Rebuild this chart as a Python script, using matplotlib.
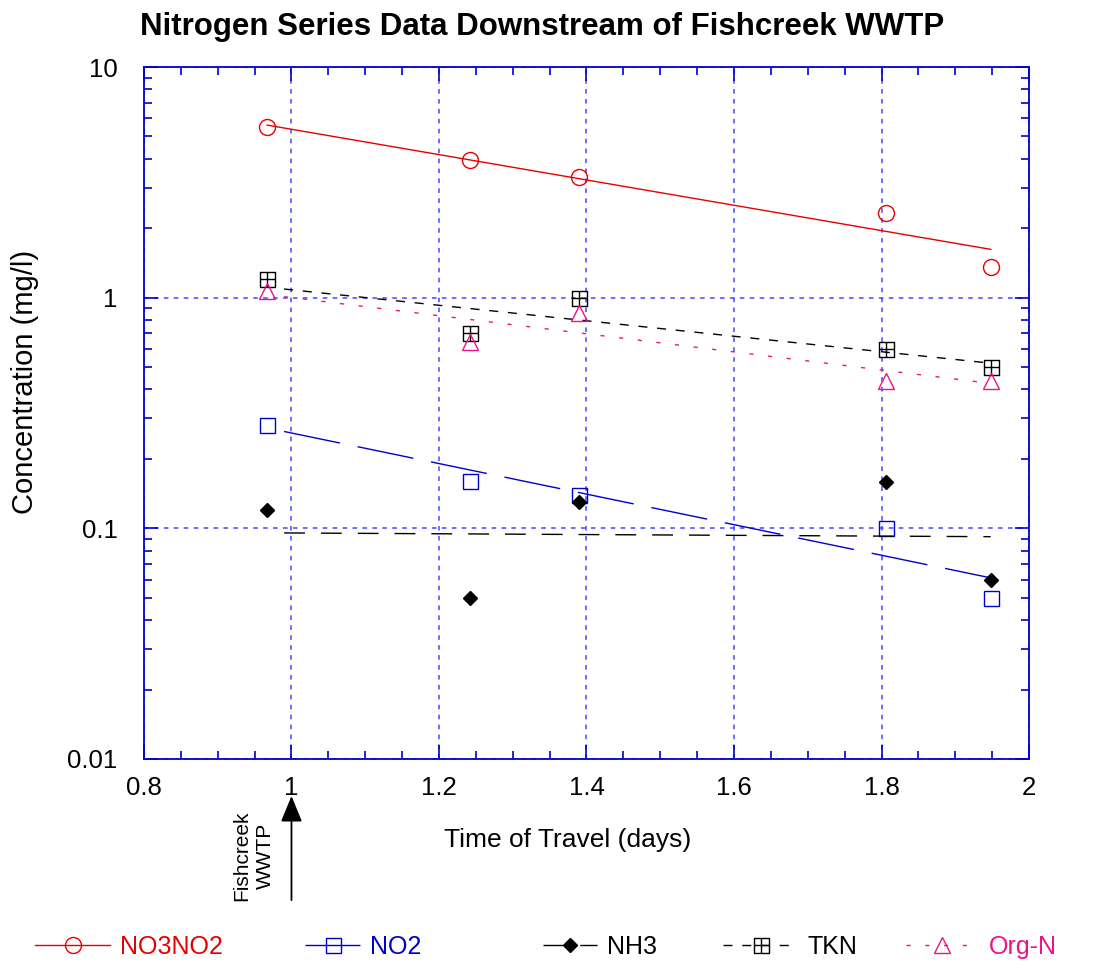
import numpy as np
import matplotlib
matplotlib.use("Agg")
import matplotlib.pyplot as plt
from matplotlib.path import Path
from matplotlib.ticker import MultipleLocator, LogLocator, FuncFormatter, NullFormatter
import matplotlib.transforms as mtransforms

plt.rcParams["font.family"] = ["Liberation Sans", "DejaVu Sans"]

# observed data (time of travel in days, concentration in mg/l)
travel_days = [0.967, 1.242, 1.390, 1.806, 1.948]
no3no2_obs = [5.5, 3.95, 3.34, 2.33, 1.36]
no2_obs = [0.28, 0.160, 0.140, 0.100, 0.050]
nh3_obs = [0.120, 0.050, 0.130, 0.159, 0.060]
tkn_obs = [1.20, 0.70, 1.00, 0.60, 0.50]
orgn_obs = [1.07, 0.64, 0.86, 0.435, 0.435]

# model (simulated) profiles
no3no2_sim_x = [0.967, 1.948]
no3no2_sim = [5.6, 1.62]
sim_x = [0.99, 1.948]
no2_sim = [0.263, 0.061]
nh3_sim = [0.0955, 0.092]
tkn_sim = [1.09, 0.52]
orgn_sim = [1.01, 0.425]

series_names = ["NO3NO2", "NO2", "NH3", "TKN", "Org-N"]

RED = "#e60000"
BLUE = "#0000cc"
PINK = "#ee1289"
AXBLUE = "#0000d0"

# square with a cross inside, for TKN
box_plus = Path(
    [(-1, -1), (1, -1), (1, 1), (-1, 1), (-1, -1), (0, -1), (0, 1), (-1, 0), (1, 0)],
    [Path.MOVETO, Path.LINETO, Path.LINETO, Path.LINETO, Path.CLOSEPOLY,
     Path.MOVETO, Path.LINETO, Path.MOVETO, Path.LINETO],
)

fig = plt.figure(figsize=(11.11, 9.67), dpi=100)
ax = fig.add_axes([0.1296, 0.2151, 0.7966, 0.7156])

ax.set_yscale("log")
ax.set_xlim(0.8, 2.0)
ax.set_ylim(0.01, 10)

styles = [
    dict(color=RED, marker="o", ms=11.5, dashes=None, ls="-"),
    dict(color=BLUE, marker="s", ms=10.8, dashes=(41, 13), ls="--"),
    dict(color="black", marker="D", ms=7.6, dashes=(15, 11.5), ls="--"),
    dict(color="black", marker=box_plus, ms=10.8, dashes=(6.5, 7), ls="--"),
    dict(color=PINK, marker="^", ms=11, dashes=(3, 10.5), ls="--"),
]
obs = [no3no2_obs, no2_obs, nh3_obs, tkn_obs, orgn_obs]
sims = [(no3no2_sim_x, no3no2_sim), (sim_x, no2_sim), (sim_x, nh3_sim),
        (sim_x, tkn_sim), (sim_x, orgn_sim)]

handles = []
for name, st, yo, (sx, sy) in zip(series_names, styles, obs, sims):
    filled = st["marker"] == "D"
    line, = ax.plot(sx, sy, color=st["color"], lw=1.0, ls=st["ls"])
    if st["dashes"] is not None:
        line.set_dashes(st["dashes"])
    ax.plot(travel_days, yo, ls="none", marker=st["marker"], ms=st["ms"],
            mec=st["color"], mfc=st["color"] if filled else "none", mew=1.0)
    # legend proxy
    h, = ax.plot([], [], color=st["color"], lw=1.0, ls=st["ls"], marker=st["marker"],
                 ms=st["ms"], mec=st["color"], mfc=st["color"] if filled else "none", mew=1.0)
    if st["dashes"] is not None:
        h.set_dashes(st["dashes"])
    handles.append(h)

# axes styling
for sp in ax.spines.values():
    sp.set_color(AXBLUE)
    sp.set_linewidth(1.3)

ax.xaxis.set_major_locator(MultipleLocator(0.2))
ax.xaxis.set_minor_locator(MultipleLocator(0.05))
ax.yaxis.set_major_locator(LogLocator(base=10))
ax.yaxis.set_minor_locator(LogLocator(base=10, subs=np.arange(2, 10)))
ax.yaxis.set_minor_formatter(NullFormatter())
ax.yaxis.set_major_formatter(FuncFormatter(lambda v, p: f"{v:g}"))
ax.xaxis.set_major_formatter(FuncFormatter(lambda v, p: f"{v:g}"))

ax.tick_params(which="both", direction="in", top=True, right=True, color=AXBLUE,
               labelsize=18.5, labelcolor="black")
ax.tick_params(which="major", length=10, width=1.2)
ax.tick_params(which="minor", length=6, width=1.2)
ax.tick_params(axis="y", which="major", pad=19)
ax.tick_params(axis="x", which="major", pad=12)

ax.grid(True, which="major", color="#4646ff", lw=1.1, ls=(0, (3, 3.5)))

# titles / labels
fig.text(0.488, 0.972, "Nitrogen Series Data Downstream of Fishcreek WWTP",
         ha="center", va="center", fontsize=22.5, fontweight="bold")
fig.text(25 / 1111, 1 - 382 / 967, "Concentration (mg/l)", rotation=90,
         ha="center", va="center", fontsize=21)
fig.text(568 / 1111, 1 - 840 / 967, "Time of Travel (days)",
         ha="center", va="center", fontsize=19)

# WWTP location marker
blend = mtransforms.blended_transform_factory(ax.transData, ax.transAxes)
ax.annotate("", xy=(1.0, -0.0535), xytext=(1.0, -0.204), xycoords=blend, textcoords=blend,
            arrowprops=dict(arrowstyle="-|>,head_length=0.8,head_width=0.33",
                            mutation_scale=20, color="black", lw=1.3,
                            shrinkA=0, shrinkB=0),
            annotation_clip=False)
ax.text(0.949, -0.140, "Fishcreek\nWWTP", transform=blend, rotation=90,
        ha="center", va="center", fontsize=15, linespacing=1.3, clip_on=False)

# legend entries along the bottom
leg_x = [35, 305, 543, 723, 906]
leg_len = [3.0, 2.2, 2.15, 3.0, 2.9]
text_colors = [RED, BLUE, "black", "black", PINK]
for h, name, lx, hl, tc in zip(handles, series_names, leg_x, leg_len, text_colors):
    lg = fig.legend(handles=[h], labels=[name], loc="center left",
                    bbox_to_anchor=(lx / 1111, 1 - 947 / 967), frameon=False,
                    fontsize=18, handlelength=hl, handletextpad=0.4, borderpad=0,
                    borderaxespad=0, numpoints=1)
    for t in lg.get_texts():
        t.set_color(tc)

fig.savefig("out.png", dpi=100)
